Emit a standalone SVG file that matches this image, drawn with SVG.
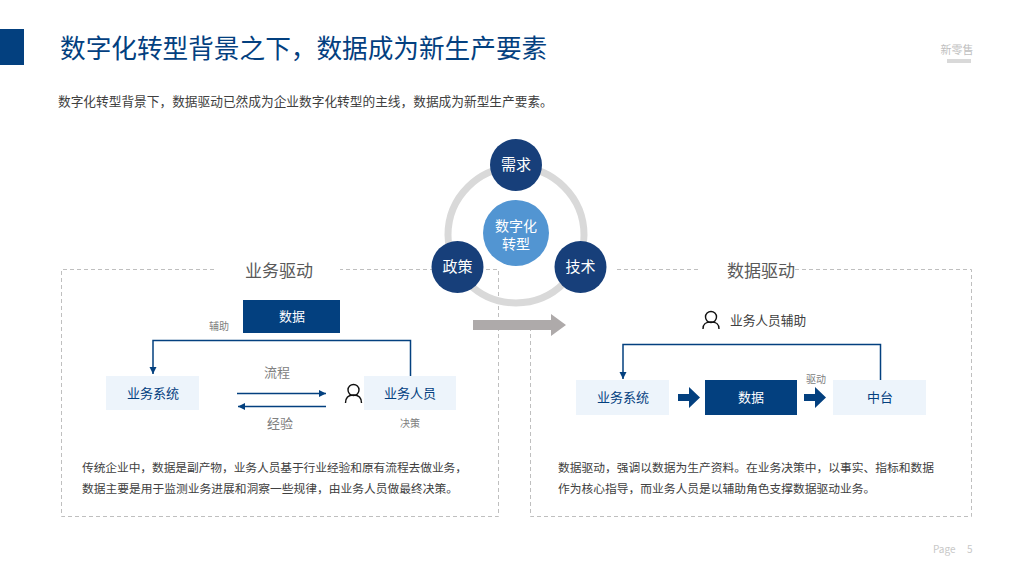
<svg xmlns="http://www.w3.org/2000/svg" width="1024" height="576" viewBox="0 0 1024 576">
<style>
text{font-family:"Noto Sans CJK SC","Noto Sans",sans-serif}
.m{text-anchor:middle}
.dash{fill:none;stroke:#bfbfbf;stroke-width:1;stroke-dasharray:4 3}
.box{fill:#edf4fb}
.dark{fill:#03407f}
.bt{font-size:13px;fill:#03407f;text-anchor:middle}
.wt{font-size:13px;fill:#fff;text-anchor:middle}
.sm{font-size:10px;fill:#808080;text-anchor:middle}
.lb{font-size:13px;fill:#808080;text-anchor:middle}
.hd{font-size:17px;fill:#595959;text-anchor:middle}
.body{font-size:11.750px;fill:#404040}
.c{fill:#173f7a}
.ct{font-size:15px;fill:#fff;text-anchor:middle}
.ln{fill:none;stroke:#03407f;stroke-width:1.5}
.ic{fill:none;stroke:#111;stroke-width:1.4}
</style>
<defs>
<marker id="a" markerWidth="9" markerHeight="8" refX="7" refY="3.500" orient="auto" markerUnits="userSpaceOnUse"><path d="M0,0L7,3.500L0,7z" fill="#03407f"/></marker>
</defs>
<g id="header">
<rect x="0" y="29" width="24" height="36" fill="#03407f"/>
<text x="60" y="58" font-size="25.650" fill="#03407f">数字化转型背景之下，数据成为新生产要素</text>
<text x="58" y="106" font-size="12.700" fill="#404040">数字化转型背景下，数据驱动已然成为企业数字化转型的主线，数据成为新型生产要素。</text>
<text x="957" y="54" font-size="11" fill="#bfbfbf" class="m">新零售</text>
<rect x="947" y="59" width="24" height="4" fill="#d9d9d9"/>
</g>
<g id="panel-left">
<path class="dash" d="M214,269.500H61.500V516.500H498.500V269.500H340"/>
<text x="279" y="277" class="hd">业务驱动</text>
</g>
<g id="panel-right">
<path class="dash" d="M698,269.500H615M795,269.500H971.500V516.500H530.500V322"/>
<text x="761" y="277" class="hd">数据驱动</text>
</g>
<g id="cycle">
<circle cx="516" cy="235" r="68" fill="none" stroke="#d9d9d9" stroke-width="7"/>
</g>
<g id="core"><circle cx="516" cy="233" r="33" fill="#5295d2"/>
<text x="516" y="231" font-size="14" fill="#fff" class="m">数字化</text><text x="516" y="249" font-size="14" fill="#fff" class="m">转型</text></g>
<g id="need"><circle class="c" cx="516" cy="165" r="26"/><text x="516" y="170" class="ct">需求</text></g>
<g id="policy"><circle class="c" cx="457.500" cy="267" r="26"/><text x="457.500" y="272" class="ct">政策</text></g>
<g id="tech"><circle class="c" cx="580.500" cy="267" r="26"/><text x="580.500" y="272" class="ct">技术</text></g>
<g id="transition"><path d="M473,320H551V314L566,325L551,336V330H473z" fill="#aeaaaa"/></g>
<g id="connectors">
<path class="ln" d="M410.500,376V340.500H153V374" marker-end="url(#a)"/>
<path class="ln" d="M237,393.500H326" marker-end="url(#a)"/>
<path class="ln" d="M326,406.500H238" marker-end="url(#a)"/>
<path class="ln" d="M880.500,380V344.500H623V379" marker-end="url(#a)"/>
<path d="M678,394H689V387L700,397.500L689,408V401H678z" fill="#03407f"/>
<path d="M804,394H815V387L826,397.500L815,408V401H804z" fill="#03407f"/>
</g>
<g id="left-data"><rect class="dark" x="243" y="300" width="97" height="33"/><text x="292" y="321" class="wt">数据</text></g>
<g id="left-system"><rect class="box" x="106" y="376" width="93" height="34"/><text x="153" y="398" class="bt">业务系统</text></g>
<g id="left-staff"><rect class="box" x="364" y="376" width="92" height="34"/><text x="410" y="398" class="bt">业务人员</text></g>
<g id="left-person"><circle class="ic" cx="353.500" cy="390" r="5.500"/><path class="ic" d="M345.500,403C345.500,397 349,395 353.500,395S361.500,397 361.500,403"/></g>
<g id="left-labels">
<text x="219" y="330" class="sm">辅助</text>
<text x="277" y="377" class="lb">流程</text>
<text x="280" y="428" class="lb">经验</text>
<text x="410" y="427" class="sm">决策</text>
</g>
<g id="right-person"><circle class="ic" cx="711" cy="317" r="5.500"/><path class="ic" d="M703,329C703,323 706.500,322 711,322S719,323 719,329"/>
<text x="730" y="325" font-size="12.700" fill="#404040">业务人员辅助</text></g>
<g id="right-system"><rect class="box" x="576" y="380" width="93" height="35"/><text x="623" y="402" class="bt">业务系统</text></g>
<g id="right-data"><rect class="dark" x="705" y="380" width="92" height="35"/><text x="751" y="402" class="wt">数据</text></g>
<g id="right-platform"><rect class="box" x="833" y="380" width="93" height="35"/><text x="880" y="402" class="bt">中台</text></g>
<text x="816" y="383" class="sm">驱动</text>
<g id="left-text">
<text x="82" y="472" class="body" textLength="385">传统企业中，数据是副产物，业务人员基于行业经验和原有流程去做业务，</text>
<text x="82" y="493" class="body">数据主要是用于监测业务进展和洞察一些规律，由业务人员做最终决策。</text>
</g>
<g id="right-text">
<text x="558" y="472" class="body">数据驱动，强调以数据为生产资料。在业务决策中，以事实、指标和数据</text>
<text x="558" y="493" class="body">作为核心指导，而业务人员是以辅助角色支撑数据驱动业务。</text>
</g>
<g id="footer">
<text x="933" y="553" font-size="10" fill="#c8c8c8" font-family="Noto Sans">Page</text>
<text x="967" y="553" font-size="10" fill="#c8c8c8">5</text>
</g>
</svg>
